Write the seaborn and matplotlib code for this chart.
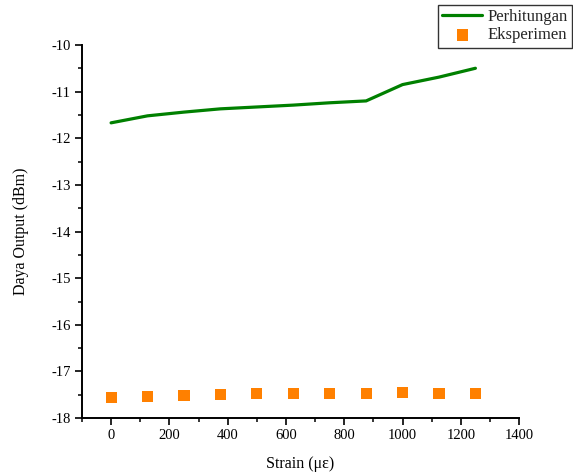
import matplotlib
matplotlib.use("Agg")
import matplotlib.pyplot as plt
from matplotlib.ticker import MultipleLocator
import seaborn as sns
import pandas as pd

# Strain steps (microstrain)
strain = [0, 125, 250, 375, 500, 625, 750, 875, 1000, 1125, 1250]
# Calculated output power (dBm)
perhitungan = [-11.67, -11.52, -11.44, -11.37, -11.33, -11.29, -11.24, -11.20, -10.85, -10.69, -10.50]
# Measured output power (dBm)
eksperimen = [-17.56, -17.54, -17.52, -17.50, -17.48, -17.48, -17.47, -17.48, -17.46, -17.48, -17.48]

df = pd.DataFrame({"strain": strain, "calc": perhitungan, "meas": eksperimen})

sns.set_theme(style="ticks")
plt.rcParams["font.family"] = ["Liberation Serif", "DejaVu Serif"]
plt.rcParams["axes.unicode_minus"] = False

fig = plt.figure(figsize=(5.73, 4.73), dpi=100)
ax = fig.add_axes([0.143, 0.116, 0.763, 0.789])

sns.lineplot(data=df, x="strain", y="calc", ax=ax, color="#008000",
             linewidth=2.3, label="Perhitungan")
sns.scatterplot(data=df, x="strain", y="meas", ax=ax, color="#FF8000",
                marker="s", s=64, edgecolor="none", label="Eksperimen")

ax.set_xlim(-100, 1400)
ax.set_ylim(-18, -10)
ax.xaxis.set_major_locator(MultipleLocator(200))
ax.xaxis.set_minor_locator(MultipleLocator(100))
ax.yaxis.set_major_locator(MultipleLocator(1))
ax.yaxis.set_minor_locator(MultipleLocator(0.5))

for side in ("top", "right"):
    ax.spines[side].set_visible(False)
for side in ("left", "bottom"):
    ax.spines[side].set_color("black")
    ax.spines[side].set_linewidth(1.4)

ax.tick_params(which="major", direction="out", length=5, width=1.2,
               color="black", labelsize=10.5, labelcolor="black", pad=3)
ax.tick_params(which="minor", direction="out", length=3, width=1.1, color="black")

ax.set_xlabel("Strain (\u03bc\u03b5)", fontsize=11.5, color="black", labelpad=10)
ax.set_ylabel("Daya Output (dBm)", fontsize=11.5, color="black", labelpad=16)

handles, labels = ax.get_legend_handles_labels()
ax.get_legend().remove()
leg = fig.legend(handles, labels, loc="upper right",
                 bbox_to_anchor=(0.998, 0.99), fontsize=12,
                 frameon=True, fancybox=False, edgecolor="black",
                 handlelength=2.4, borderpad=0.25, labelspacing=0.15,
                 handletextpad=0.3, borderaxespad=0.0)
leg.get_frame().set_linewidth(1.0)

fig.savefig("out.png", dpi=100, facecolor="white")
